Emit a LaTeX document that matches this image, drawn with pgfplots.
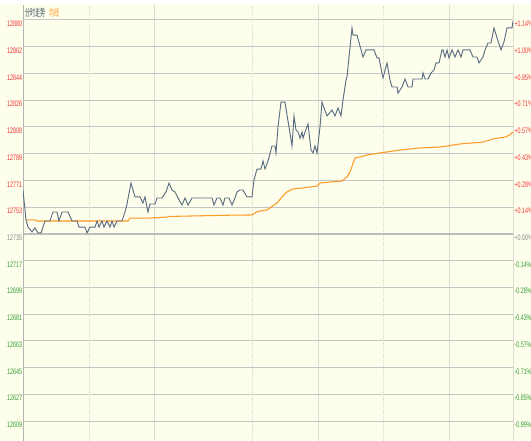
\documentclass[border=0pt]{standalone}
\usepackage{pgfplots}
\pgfplotsset{compat=1.18}
\usepackage{fontspec}
\setmainfont{Liberation Sans}
\newfontfamily\cjk{Noto Sans CJK SC}

\definecolor{bgc}{HTML}{FEFEEC}
\definecolor{hgrid}{HTML}{C6C6C6}
\definecolor{zeroc}{HTML}{BDBDBD}
\definecolor{vsolid}{HTML}{DCDCCC}
\definecolor{vdot}{HTML}{E2E2D2}
\definecolor{leftc}{HTML}{B4B4B4}
\definecolor{pricec}{HTML}{5A6D82}
\definecolor{avgc}{HTML}{FF9A26}
\definecolor{hdr}{HTML}{3A4A5C}
\definecolor{up}{HTML}{F03434}
\definecolor{down}{HTML}{35A035}
\definecolor{flat}{HTML}{8A8A8A}

\newcommand\tl{\fontsize{6}{6}\selectfont}

\pgfplotsset{
  chartbox/.style={
    at={(0,0)}, anchor=south west,
    scale only axis,
    width=367.5pt, height=327pt,
    xmin=0, xmax=490,
    ymin=12594.73, ymax=12890.16,
    axis line style={draw=none},
    tick style={draw=none},
    ytick={12880,12861.875,12843.75,12825.625,12807.5,12789.375,12771.25,12753.125,
           12735,12716.875,12698.75,12680.625,12662.5,12644.375,12626.25,12608.125},
  },
}

\begin{document}
\begin{tikzpicture}
\fill[bgc] (-17.25pt,0) rectangle (381pt,330.75pt);
\fill[white] (-17.25pt,327.75pt) rectangle (381pt,330.75pt);

\begin{axis}[
    chartbox,
    xtick={0,131,295,426,490},
    xticklabels={},
    xmajorgrids=true,
    x grid style={color=vsolid, line width=0.75pt},
    extra x ticks={66,229,360},
    extra x tick labels={},
    extra x tick style={grid=major, major grid style={color=vdot, densely dotted, line width=0.75pt}},
    ymajorgrids=true,
    y grid style={color=hgrid, line width=0.75pt},
    yticklabels={\textcolor{up}{12880},\textcolor{up}{12862},\textcolor{up}{12844},\textcolor{up}{12826},
                 \textcolor{up}{12808},\textcolor{up}{12789},\textcolor{up}{12771},\textcolor{up}{12753},
                 \textcolor{flat}{12735},\textcolor{down}{12717},\textcolor{down}{12699},\textcolor{down}{12681},
                 \textcolor{down}{12663},\textcolor{down}{12645},\textcolor{down}{12627},\textcolor{down}{12609}},
    yticklabel style={anchor=north east, inner sep=0pt, font=\tl, xscale=0.67, xshift=-0.75pt, yshift=-0.5pt},
]
\draw[zeroc, line width=1.5pt] (axis cs:0,12735) -- (axis cs:490,12735);
\draw[leftc, line width=0.75pt] (axis cs:0,12594.73) -- (axis cs:0,12890.16);

% 均线
\addplot[avgc, line width=0.8pt] coordinates {
(3,12744.5) (12,12744.5) (14,12743.8) (105,12743.8) (107,12745.8) (127,12745.8)
(145,12746.5) (147,12746.9) (205,12747.7) (229,12747.9) (234,12750.1) (244,12751.3)
(254,12756.0) (259,12760.1) (264,12763.5) (270,12765.5) (280,12766.2) (294,12767.5)
(297,12769.5) (307,12770.2) (319,12770.9) (324,12773.6) (327,12777.0) (332,12786.5)
(337,12787.2) (344,12788.5) (357,12789.9) (377,12791.9) (397,12793.3) (417,12793.9)
(437,12796.0) (450,12796.7) (460,12797.3) (470,12799.4) (482,12800.7) (487,12802.1)
(490,12804.1)
};

% 分时走势
\addplot[pricec, line width=0.7pt] coordinates {
(0,12764.8) (3,12744.5) (5,12739.7) (9,12736.4) (12,12739.1) (15,12735.7) (18,12735.7)
(22,12743.8) (27,12743.8) (30,12749.9) (34,12749.9) (36,12743.8) (39,12749.9) (45,12749.9)
(49,12743.8) (54,12743.8) (56,12739.7) (62,12739.7) (64,12735.7) (67,12739.7) (72,12739.7)
(74,12743.8) (76,12739.7) (79,12743.8) (81,12739.7) (84,12743.8) (87,12739.7) (89,12743.8)
(91,12739.7) (94,12743.8) (99,12743.8) (102,12749.9) (104,12755.3) (108,12769.5)
(112,12760.1) (117,12760.1) (120,12756.0) (122,12760.1) (125,12749.9) (127,12755.3)
(132,12755.3) (134,12759.4) (139,12759.4) (143,12763.5) (146,12769.5) (149,12764.8)
(152,12763.5) (155,12759.4) (159,12754.6) (162,12759.4) (165,12754.6) (169,12759.4)
(189,12759.4) (191,12754.6) (194,12759.4) (197,12759.4) (200,12754.6) (202,12759.4)
(206,12759.4) (209,12754.6) (212,12759.4) (214,12763.5) (217,12764.8) (220,12764.8)
(224,12760.1) (229,12760.1) (231,12771.6) (234,12779.0) (238,12779.0) (240,12784.5)
(242,12779.0) (245,12784.5) (249,12794.6) (252,12794.6) (253,12789.9) (255,12807.5)
(258,12824.4) (262,12824.4) (264,12815.6) (266,12807.5) (269,12794.6) (271,12815.0)
(273,12805.4) (275,12804.1) (277,12800.0) (279,12804.1) (280,12800.0) (282,12804.1)
(285,12809.6) (288,12792.0) (290,12789.9) (292,12794.6) (294,12789.9) (297,12807.5)
(299,12824.4) (300,12822.4) (304,12815.0) (309,12819.0) (312,12815.0) (315,12820.4)
(318,12815.0) (320,12825.8) (323,12839.3) (324,12841.4) (329,12874.6) (330,12869.8)
(334,12869.8) (340,12854.9) (343,12859.7) (351,12859.7) (354,12854.3) (356,12854.3)
(360,12840.7) (364,12850.9) (367,12839.3) (369,12834.6) (374,12834.6) (375,12830.5)
(379,12834.6) (382,12840.0) (385,12834.6) (389,12834.6) (390,12840.0) (399,12840.0)
(400,12844.1) (402,12840.0) (405,12840.0) (408,12844.1) (411,12846.1) (413,12850.9)
(416,12850.9) (419,12859.7) (420,12859.7) (422,12854.9) (424,12859.7) (426,12854.3)
(429,12859.7) (432,12854.9) (435,12859.7) (438,12854.9) (440,12859.7) (447,12859.7)
(450,12854.9) (454,12854.9) (456,12850.9) (460,12854.9) (462,12859.7) (465,12864.4)
(468,12864.4) (471,12874.6) (474,12867.8) (478,12859.7) (481,12865.1) (484,12874.6)
(489,12874.6) (490,12879.3)
};

\node[anchor=west, inner sep=0pt, xscale=0.5] at (axis cs:2,12884.7)
  {\cjk\fontsize{7.5}{7.5}\selectfont\textcolor{hdr}{分时走势}\hspace{6pt}\textcolor{avgc}{均线}};
\end{axis}

\begin{axis}[
    chartbox,
    xtick=\empty,
    yticklabel pos=right,
    yticklabels={\textcolor{up}{+1.14\%},\textcolor{up}{+1.00\%},\textcolor{up}{+0.85\%},\textcolor{up}{+0.71\%},
                 \textcolor{up}{+0.57\%},\textcolor{up}{+0.43\%},\textcolor{up}{+0.28\%},\textcolor{up}{+0.14\%},
                 \textcolor{flat}{+0.00\%},\textcolor{down}{-0.14\%},\textcolor{down}{-0.28\%},\textcolor{down}{-0.43\%},
                 \textcolor{down}{-0.57\%},\textcolor{down}{-0.71\%},\textcolor{down}{-0.85\%},\textcolor{down}{-0.99\%}},
    yticklabel style={anchor=north west, inner sep=0pt, font=\tl, xscale=0.67, xshift=1.5pt, yshift=-0.5pt},
]
\end{axis}

\pgfresetboundingbox
\useasboundingbox (-17.25pt,0) rectangle (381pt,330.75pt);
\end{tikzpicture}
\end{document}
